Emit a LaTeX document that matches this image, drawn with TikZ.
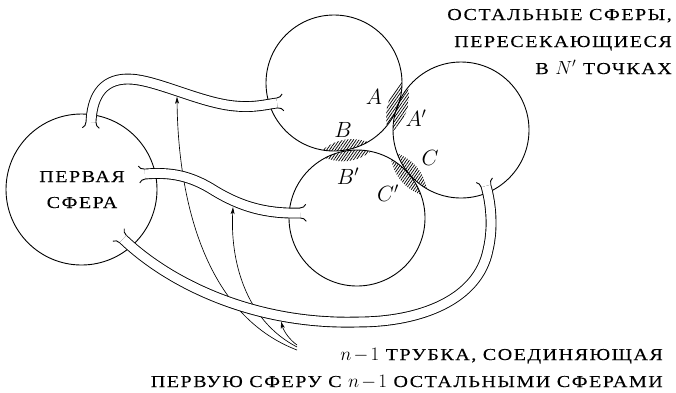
\RequirePackage{fix-cm}
\documentclass[tikz,border=0pt]{standalone}
\usepackage[no-math]{fontspec}
\newfontfamily\scf[Scale=0.88,FakeStretch=1.2,LetterSpace=9,FakeBold=0.12]{Liberation Serif}
\usetikzlibrary{arrows.meta,patterns.meta,calc}
\tikzset{
  sphere/.style={circle,draw,line width=0.9pt,inner sep=0pt,minimum size=#1},
  tube/.style={line width=0.9pt,double=white,double distance=9pt},
  hookline/.style={line width=0.9pt},
  pointer/.style={line width=0.65pt,-{Stealth[length=7pt,width=4pt,inset=2pt]}},
  hatch/.style={pattern={Lines[angle=55,distance=2.3pt,line width=0.75pt]}},
  sctext/.style={font=\fontsize{19}{23}\selectfont\scf,inner sep=0pt},
  ptlabel/.style={font=\fontsize{22}{26}\selectfont,inner sep=0pt},
}
\newcommand\tubeends[2]{%
  \draw[hookline] ($(#1)+(#2+90:4.95)$) .. controls +(#2:3) and +(#2+240:2.5) .. ($(#1)+(#2+90:4.95)+(#2:6)+(#2+90:3.5)$);
  \draw[hookline] ($(#1)+(#2-90:4.95)$) .. controls +(#2:3) and +(#2+120:2.5) .. ($(#1)+(#2-90:4.95)+(#2:6)+(#2-90:3.5)$);
}
\newcommand\leaf[2]{%
  \fill[hatch] ($(#1)+(#2-20:68)$) arc[start angle=#2-20,end angle=#2+20,radius=68]
    .. controls ($(#1)+(#2+7:56)$) and ($(#1)+(#2-7:56)$) .. cycle;
}
\begin{document}
\begin{tikzpicture}[x=1pt,y=-1pt]
\useasboundingbox (0,0) rectangle (676,392);
% spheres
\node[sphere=151pt] (s1) at (81.5,189.5) {};
\node[sphere=136pt] (s2) at (334,83) {};
\node[sphere=136pt] (s3) at (461,130) {};
\node[sphere=136pt] (s4) at (357,218) {};
% hatched contact regions
\leaf{s2.center}{19}
\leaf{s3.center}{199}
\leaf{s2.center}{80}
\leaf{s4.center}{262}
\leaf{s3.center}{140}
\leaf{s4.center}{-40}
% pointers
\coordinate (src1) at (297,350);
\coordinate (src2) at (297,347);
\coordinate (src3) at (297,345);
\coordinate (tip1) at (177,96.8);
\coordinate (tip2) at (233,207.2);
\coordinate (tip3) at (281,321.5);
\draw[pointer] (src1) .. controls (205,315) and (178,200) .. (tip1);
\draw[pointer] (src2) .. controls (245,320) and (230,260) .. (tip2);
\draw[pointer] (src3) .. controls (290,340) and (284,332) .. (tip3);
% tubes
\coordinate (t1a) at (91,122);
\coordinate (t1b) at (277,103);
\coordinate (t2a) at (145,174);
\coordinate (t2b) at (300,213);
\coordinate (t3a) at (123,239);
\coordinate (t3b) at (486,186);
\draw[tube] (t1a) .. controls (92,100) and (100,79) .. (128,79)
  .. controls (155,79) and (200,103) .. (235,106)
  .. controls (255,108) and (268,104) .. (t1b);
\tubeends{t1a}{92}
\tubeends{t1b}{-6}
\draw[tube] (t2a) .. controls (170,172) and (190,175) .. (215,191)
  .. controls (240,206) and (265,214) .. (t2b);
\tubeends{t2a}{175}
\tubeends{t2b}{-2}
\draw[tube] (t3a) .. controls (170,284) and (255,325) .. (358,322)
  .. controls (420,322) and (478,300) .. (488,250)
  .. controls (494,225) and (490,200) .. (t3b);
\tubeends{t3a}{222.5}
\tubeends{t3b}{254}
% point labels
\node[ptlabel] (lA) at (374,97) {$A$};
\node[ptlabel] (lAp) at (416,118) {$A'$};
\node[ptlabel] (lB) at (343,130) {$B$};
\node[ptlabel] (lBp) at (348,176) {$B'$};
\node[ptlabel] (lC) at (430,158) {$C$};
\node[ptlabel] (lCp) at (388,193) {$C'$};
% texts
\node[sctext,anchor=base] (f1) at (82,182) {ПЕРВАЯ};
\node[sctext,anchor=base] (f2) at (82,208) {СФЕРА};
\node[sctext,anchor=base east] (r1) at (672,20) {ОСТАЛЬНЫЕ СФЕРЫ,};
\node[sctext,anchor=base east] (r2) at (672,47) {ПЕРЕСЕКАЮЩИЕСЯ};
\node[sctext,anchor=base east] (r3) at (672,74) {В $N'$ ТОЧКАХ};
\node[sctext,anchor=base east] (b1) at (663,360) {$n\mskip2mu{-}\mskip2mu1$ ТРУБКА, СОЕДИНЯЮЩАЯ};
\node[sctext,anchor=base east] (b2) at (663,387) {ПЕРВУЮ СФЕРУ С $n\mskip2mu{-}\mskip2mu1$ ОСТАЛЬНЫМИ СФЕРАМИ};
\end{tikzpicture}
\end{document}
